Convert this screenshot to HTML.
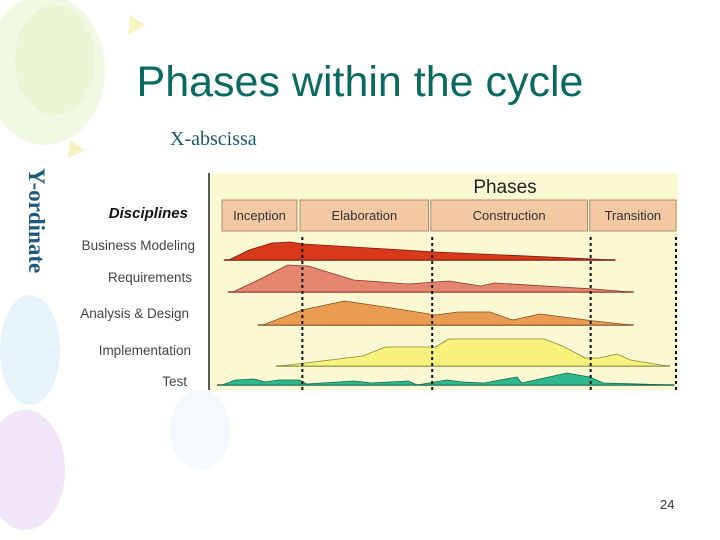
<!DOCTYPE html>
<html><head><meta charset="utf-8"><style>
body{margin:0;width:720px;height:540px;overflow:hidden;background:#fff;font-family:"Liberation Sans",sans-serif;position:relative}
.abs{position:absolute}
</style></head><body>
<svg class="abs" style="left:0;top:0" width="720" height="540">
<ellipse cx="45" cy="70" rx="60" ry="75" fill="#eef7dc" opacity="0.8"/>
<ellipse cx="55" cy="60" rx="40" ry="55" fill="#e4f2cc" opacity="0.6"/>
<ellipse cx="30" cy="350" rx="30" ry="55" fill="#dbeefa" opacity="0.7"/>
<ellipse cx="25" cy="470" rx="40" ry="60" fill="#efe2f7" opacity="0.9"/>
<ellipse cx="200" cy="430" rx="30" ry="40" fill="#f2f8fd" opacity="0.9"/>
<path d="M130 15 L145 25 L128 35Z" fill="#f6f3c5"/>
<path d="M70 140 L85 150 L68 158Z" fill="#f6f3c5"/>
</svg>
<div class="abs" style="left:0;width:720px;top:58px;text-align:center;font-size:43px;color:#0a6a62">Phases within the cycle</div>
<div class="abs" style="left:170px;top:128px;font-family:'Liberation Serif',serif;font-size:20px;color:#1a5a6a">X-abscissa</div>
<div class="abs" style="left:49px;top:168px;transform-origin:0 0;transform:rotate(90deg);font-family:'Liberation Serif',serif;font-size:23px;font-weight:bold;color:#1a5a7a;white-space:nowrap">Y-ordinate</div>
<div class="abs" style="left:660px;top:497px;font-size:13px;color:#334">24</div>
<svg id="chart" class="abs" style="left:0;top:0" width="720" height="540"></svg>
<script>
const phases=["Inception","Elaboration","Construction","Transition"];
const phaseStarts=[0,17.2,46,81];
const phaseEnds=[16.5,45.5,80.5,100];
const disciplines=["Business Modeling","Requirements","Analysis & Design","Implementation","Test"];
const businessData=[[1.5,0],[6,10],[11,17],[15,18],[18,16],[47,8],[77,2],[86,0]];
const requirementsData=[[2.4,0],[8,12],[14.5,27],[19,26],[29,12],[41,8],[50,11],[57,6],[60,9],[82,3],[90,0]];
const designData=[[9,0],[17.6,15],[27,24],[36,18],[47,10],[52,13],[59,13],[64,5],[70,11],[82,4],[90,0]];
const implementationData=[[13,0],[31,10],[36,19],[47,19],[50,27],[71,27],[75,20],[80,8],[83,8],[87,12],[90,6],[98,0]];
const testData=[[0,0],[3,5],[7,6],[9.5,3],[12.5,5],[17,5],[18.7,1],[29,4],[33,2],[41,4],[43,0],[49.5,5],[53,3],[57.7,2],[65,8],[66,2],[70,6],[76,12],[81,8],[84,2],[99,0]];
const milestones=[17.7,46.3,81.2,100];

const series=[businessData,requirementsData,designData,implementationData,testData];
const fills=["#d9391b","#e3866d","#e89c52","#f6f27c","#2db98d"];
const strokes=["#7a1a08","#8a3a2a","#8a5020","#8a8a3a","#1a6a4a"];
const baselines=[260,292,325,366,385];
const x=v=>222+v*4.54;
const y=(i,h)=>baselines[i]-h;
const svg=document.getElementById('chart');
const NS="http://www.w3.org/2000/svg";
function mk(t,a){const e=document.createElementNS(NS,t);for(const k in a)e.setAttribute(k,a[k]);svg.appendChild(e);return e;}
let e=mk('rect',{x:209,y:173,width:469,height:217,fill:'#fbf8d4'});


e=mk('line',{x1:209,y1:173,x2:209,y2:390,stroke:'#222','stroke-width':1.5});


e=mk('text',{x:505,y:193,'text-anchor':'middle','font-size':19,fill:'#222','font-family':'Liberation Sans, sans-serif'});e.textContent='Phases';


phases.forEach((p,i)=>{
 const r=mk('rect',{x:x(phaseStarts[i]),y:200,width:x(phaseEnds[i])-x(phaseStarts[i]),height:31,fill:'#f3c9a4',stroke:'#b08a70'});
 
 
 const t=mk('text',{x:(x(phaseStarts[i])+x(phaseEnds[i]))/2,y:220,'text-anchor':'middle','font-size':13,fill:'#333','font-family':'Liberation Sans, sans-serif'});
 t.textContent=p;
 
 
});
e=mk('text',{x:188,y:218,'text-anchor':'end','font-size':15,'font-weight':'bold','font-style':'italic',fill:'#111','font-family':'Liberation Sans, sans-serif'});e.textContent='Disciplines';


const labelY=[250,282,318,355,386];
disciplines.forEach((d,i)=>{
 const t=mk('text',{x:[195,192,189,191,187][i],y:labelY[i],'text-anchor':'end','font-size':13.5,fill:'#444','font-family':'Liberation Sans, sans-serif'});
 t.textContent=d;
 
 
});
series.forEach((s,i)=>{
 const l=mk('line',{x1:x(s[0][0])-5,y1:baselines[i],x2:x(s[s.length-1][0])+3,y2:baselines[i],stroke:strokes[i],'stroke-width':1.5});
 
 
 const pts=s.map(p=>x(p[0])+','+y(i,p[1])).join(' ');
 const pg=mk('polygon',{points:pts,fill:fills[i],stroke:strokes[i],'stroke-width':0.8,'stroke-linejoin':'round'});
 
 
});
milestones.forEach(m=>{
 const l=mk('line',{x1:x(m),y1:237,x2:x(m),y2:390,stroke:'#111','stroke-width':2,'stroke-dasharray':'3,3'});
 
 
});
</script>
</body></html>
